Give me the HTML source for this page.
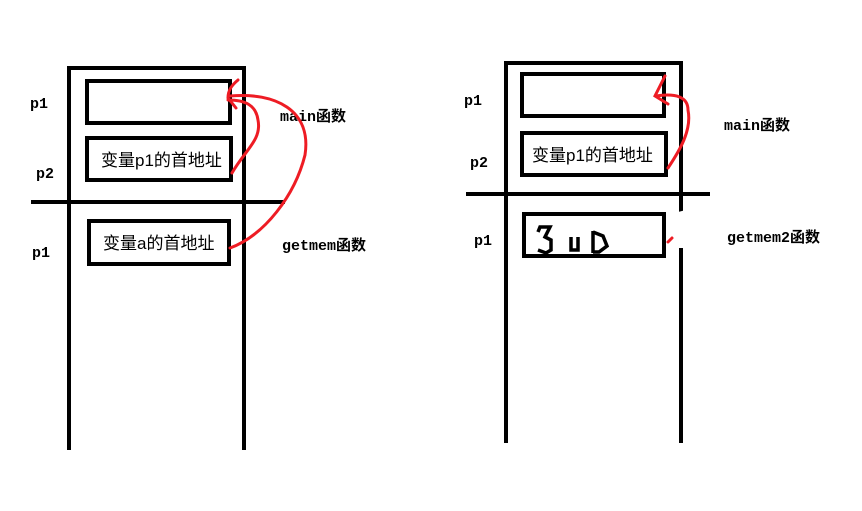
<!DOCTYPE html>
<html><head><meta charset="utf-8"><style>
html,body{margin:0;padding:0;background:#fff;width:862px;height:511px;overflow:hidden}
text{font-family:"Liberation Mono","Noto Sans CJK SC",monospace;font-size:15px;font-weight:bold;fill:#000}
.cn{font-family:"Liberation Sans","Noto Sans CJK SC",sans-serif;font-size:17px;font-weight:normal}
</style></head><body>
<svg width="862" height="511" viewBox="0 0 862 511" xmlns="http://www.w3.org/2000/svg">
<g stroke="#000" stroke-width="4" fill="none">
<polyline points="69,450 69,68 244,68 244,450"/>
<line x1="31" y1="202" x2="285" y2="202"/>
<rect x="87" y="81" width="143" height="42"/>
<rect x="87" y="138" width="144" height="42"/>
<rect x="89" y="221" width="140" height="43"/>
<polyline points="506,443 506,63 681,63 681,443"/>
<line x1="466" y1="194" x2="710" y2="194"/>
<rect x="522" y="74" width="142" height="42"/>
<rect x="522" y="133" width="144" height="42"/>
<rect x="524" y="214" width="140" height="42"/>
</g>
<polygon points="672,230 678,212 686,210 690,222 700,232 688,248 676,248" fill="#fff"/>
<g stroke="#000" stroke-width="3.5" fill="none">
<path d="M538,232 L540,227 L550,227 L545,237 L551,240 L551,250 L546,253 L538,250"/>
<path d="M571,237 L571,250 L578,250 L578,237"/>
<path d="M593,231 L593,253 M593,232 L603,236 L607,246 L599,252 L593,252"/>
</g>
<text x="30" y="108">p1</text>
<text x="36" y="178">p2</text>
<text x="32" y="257">p1</text>
<text x="280" y="121">main函数</text>
<text x="282" y="250">getmem函数</text>
<text class="cn" x="101" y="166">变量p1的首地址</text>
<text class="cn" x="103" y="249">变量a的首地址</text>
<text x="464" y="105">p1</text>
<text x="470" y="167">p2</text>
<text x="474" y="245">p1</text>
<text x="724" y="130">main函数</text>
<text x="727" y="242">getmem2函数</text>
<text class="cn" x="532" y="161">变量p1的首地址</text>
<g stroke="#ee1c24" stroke-width="3" fill="none" stroke-linecap="round">
<path d="M232,173 C245,150 262,140 258,120 C256,105 245,100 228,100"/>
<path d="M230,248 C265,235 295,195 305,155 C312,110 275,92 230,96"/>
<path d="M238,80 C232,85 228,90 228,98 L236,108"/>
<path d="M668,168 C680,150 692,130 688,110 C688,97 676,93 656,96"/>
<path d="M665,76 L655,96 L668,104"/>
<path d="M668,242 L672,238"/>
</g>
</svg>
</body></html>
